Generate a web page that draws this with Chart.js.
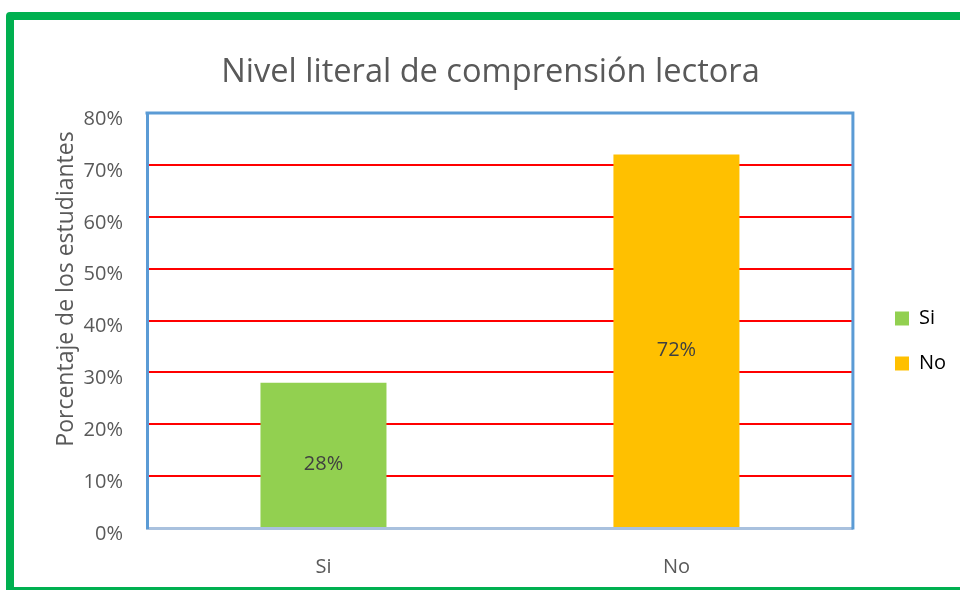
<!DOCTYPE html>
<html>
<head>
<meta charset="utf-8">
<script src="https://cdn.jsdelivr.net/npm/chart.js@4.4.1/dist/chart.umd.min.js"></script>
<style>
  html, body { margin: 0; padding: 0; background: #ffffff; overflow: hidden; }
  #frame { position: absolute; left: 6px; top: 12px; width: 1000px; height: 567px; border: 8px solid #00B050; border-radius: 4px; }
  #wrap { position: absolute; left: 0; top: 0; width: 960px; height: 590px; }
</style>
</head>
<body>
<div id="frame"></div>
<div id="wrap"><canvas id="c" width="960" height="590"></canvas></div>
<script>
const categories = ['Si', 'No'];
const values = [28, 72];
const barColors = ['#92D050', '#FFC000'];
const chartTitle = 'Nivel literal de comprensión lectora';
const yAxisTitle = 'Porcentaje de los estudiantes';
const yMin = 0, yMax = 80, yStep = 10;

const FONT = "'Open Sans', 'Noto Sans', sans-serif";
const GRAY = '#595959';

const layoutFix = {
  id: 'layoutFix',
  afterLayout(chart) {
    const l = chart.legend;
    if (l) {
      const w = l.width;
      l.left = 870; l.right = l.left + w;
      l.top += 46; l.bottom += 46;
    }
    const t = chart.titleBlock;
    if (t) { t.left += 21; t.right += 21; }
  }
};

const frameAndLabels = {
  id: 'frameAndLabels',
  afterDatasetsDraw(chart) {
    const ctx = chart.ctx;
    const a = chart.chartArea;
    ctx.save();
    // data labels
    ctx.font = '20px ' + FONT;
    ctx.fillStyle = '#404040';
    ctx.textAlign = 'center';
    ctx.textBaseline = 'middle';
    const meta = chart.getDatasetMeta(0);
    meta.data.forEach((bar, i) => {
      const p = bar.getProps(['x', 'y', 'base'], true);
      ctx.fillText(values[i] + '%', p.x, (p.y + p.base) / 2 + 9);
    });
    // plot border (top, right)
    ctx.strokeStyle = '#5B9BD5';
    ctx.lineWidth = 3;
    ctx.beginPath();
    ctx.moveTo(a.left - 1.5, a.top);
    ctx.lineTo(a.right, a.top);
    ctx.lineTo(a.right, a.bottom + 1.5);
    ctx.stroke();
    // y axis title
    ctx.font = '23px ' + FONT;
    ctx.fillStyle = GRAY;
    ctx.translate(66, 289);
    ctx.rotate(-Math.PI / 2);
    ctx.fillText(yAxisTitle, 0, 0);
    ctx.restore();
  }
};

new Chart(document.getElementById('c'), {
  type: 'bar',
  data: {
    labels: categories,
    datasets: [{
      data: values,
      backgroundColor: barColors,
      borderWidth: 0,
      categoryPercentage: 1.0,
      barPercentage: 0.357
    }]
  },
  options: {
    responsive: false,
    animation: false,
    devicePixelRatio: 1,
    layout: { padding: { left: 0, right: 21, top: 0, bottom: 0 } },
    plugins: {
      title: {
        display: true,
        text: chartTitle,
        color: GRAY,
        font: { family: FONT, size: 32.6, weight: 'normal', lineHeight: 1.2 },
        padding: { top: 53, bottom: 21 }
      },
      legend: {
        display: true,
        position: 'right',
        labels: {
          color: GRAY,
          font: { family: FONT, size: 20 },
          boxWidth: 14,
          boxHeight: 14,
          padding: 25,
          generateLabels() {
            return categories.map((c, i) => ({
              text: c, fillStyle: barColors[i], strokeStyle: barColors[i], lineWidth: 0, hidden: false, index: i
            }));
          }
        }
      },
      tooltip: { enabled: false }
    },
    scales: {
      x: {
        grid: { display: false },
        border: { display: true, color: '#A9C1DE', width: 3 },
        ticks: { color: GRAY, font: { family: FONT, size: 20 }, padding: 19 },
        afterFit(s) { s.height = 62; }
      },
      y: {
        min: yMin, max: yMax,
        grid: {
          drawTicks: false,
          lineWidth: 2,
          color(ctx) { const v = ctx.tick && ctx.tick.value; return (v > yMin && v < yMax) ? '#FF0000' : 'rgba(0,0,0,0)'; }
        },
        border: { display: true, color: '#5B9BD5', width: 3 },
        ticks: {
          stepSize: yStep,
          color: GRAY,
          font: { family: FONT, size: 20 },
          padding: 24,
          labelOffset: 6,
          callback(v) { return v + '%'; }
        },
        afterFit(s) { s.width = 147; }
      }
    }
  },
  plugins: [layoutFix, frameAndLabels]
});
</script>
</body>
</html>
